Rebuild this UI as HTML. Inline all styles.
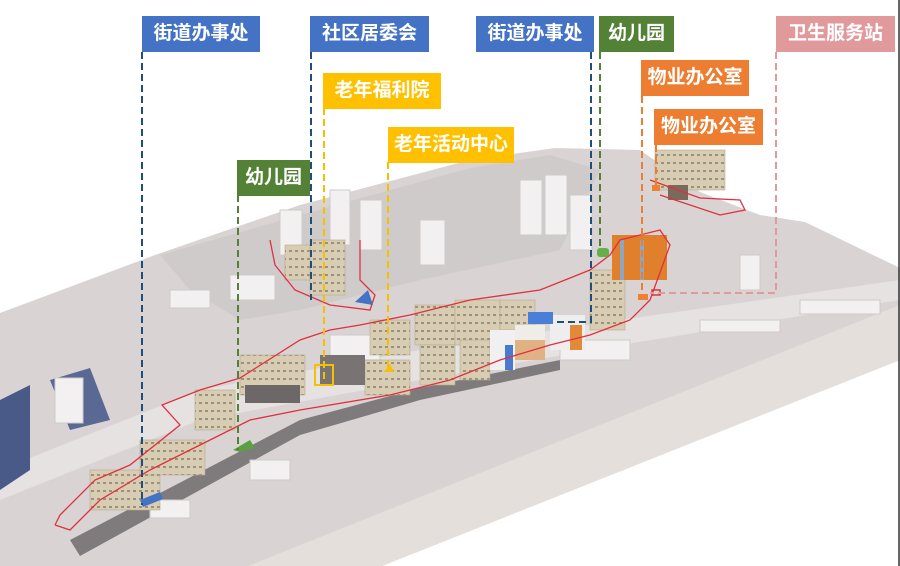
<!DOCTYPE html>
<html><head><meta charset="utf-8"><style>
body{margin:0;width:900px;height:566px;overflow:hidden;background:#fff;font-family:"Liberation Sans","Noto Sans CJK SC",sans-serif}
.l{position:absolute;color:#fff;font-weight:bold;font-size:19px;line-height:36px;text-align:center;letter-spacing:0px}
svg{position:absolute;left:0;top:0}
</style></head><body>
<svg width="900" height="566" viewBox="0 0 900 566">
<defs>
<pattern id="bg" width="6" height="8" patternUnits="userSpaceOnUse"><rect width="6" height="8" fill="#d8ccb2"/><rect x="1" y="2" width="3" height="2" fill="#9a9280"/></pattern>
</defs>
<polygon points="0,313 155,255 300,205 470,160 555,148 640,150 700,192 760,215 805,222 900,268 900,360 382,566 0,566" fill="#d9d4d3"/>
<polygon points="900,305 900,360 382,566 248,566" fill="#e4dfdb"/>
<polygon points="160,255 300,215 470,168 550,155 600,170 560,250 420,280 300,310 240,320 190,290" fill="#d0cbcb"/>
<!-- road strip -->
<polygon points="0,470 200,390 420,350 620,320 900,280 900,300 620,345 420,380 200,420 0,500" fill="#e6e2e1"/>
<polygon points="70,540 300,420 420,388 560,360 560,370 420,400 300,435 80,556" fill="#7f7a7c"/>
<!-- shadows -->
<polygon points="0,400 30,385 30,470 0,490" fill="#4a5a88"/>
<polygon points="50,380 90,368 110,420 70,430" fill="#5a6894"/>
<!-- white towers -->
<g fill="#f2f0f0" stroke="#cfcaca" stroke-width="1">
<rect x="55" y="378" width="28" height="45"/>
<rect x="280" y="210" width="22" height="45"/>
<rect x="330" y="190" width="20" height="55"/>
<rect x="360" y="200" width="22" height="50"/>
<rect x="420" y="220" width="25" height="45"/>
<rect x="520" y="180" width="22" height="55"/>
<rect x="545" y="175" width="22" height="60"/>
<rect x="570" y="195" width="22" height="55"/>
<rect x="170" y="290" width="40" height="18"/>
<rect x="230" y="275" width="45" height="25"/>
<rect x="330" y="335" width="50" height="25"/>
<rect x="560" y="340" width="70" height="20"/>
<rect x="740" y="255" width="20" height="35"/>
<rect x="700" y="320" width="80" height="12"/>
<rect x="800" y="300" width="80" height="14"/>
<rect x="150" y="500" width="40" height="18"/>
<rect x="250" y="460" width="40" height="20"/>
</g>
<!-- beige residential -->
<g fill="url(#bg)" stroke="#b8aa8c" stroke-width="0.6">
<rect x="90" y="470" width="70" height="40"/>
<rect x="140" y="440" width="65" height="35"/>
<rect x="195" y="390" width="40" height="40"/>
<rect x="240" y="355" width="65" height="40"/>
<rect x="365" y="360" width="45" height="35"/>
<rect x="370" y="320" width="40" height="35"/>
<rect x="415" y="305" width="40" height="40"/>
<rect x="420" y="345" width="35" height="40"/>
<rect x="455" y="300" width="45" height="45"/>
<rect x="460" y="340" width="30" height="40"/>
<rect x="500" y="300" width="35" height="30"/>
<rect x="590" y="270" width="35" height="60"/>
<rect x="310" y="240" width="35" height="55"/>
<rect x="285" y="245" width="25" height="35"/>
<rect x="655" y="150" width="70" height="40"/>
</g>
<g>
<rect x="515" y="325" width="30" height="35" fill="#f0ece8"/><rect x="515" y="340" width="30" height="20" fill="#d58a40" opacity=".6"/>
<rect x="550" y="315" width="35" height="35" fill="#eee"/><rect x="570" y="325" width="12" height="25" fill="#e08a3a"/>
<rect x="490" y="330" width="25" height="40" fill="#f0f0f0"/><rect x="505" y="345" width="8" height="25" fill="#4a7ad0"/>
<rect x="528" y="312" width="25" height="12" fill="#4a7fd8"/>
<rect x="612" y="235" width="55" height="45" fill="#e07f2c"/>
<rect x="620" y="240" width="4" height="40" fill="#8fa6c0"/><rect x="640" y="240" width="4" height="40" fill="#8fa6c0"/>
<rect x="668" y="185" width="20" height="15" fill="#7a6a5c"/>
<rect x="245" y="385" width="55" height="18" fill="#6d6767"/>
<rect x="320" y="355" width="45" height="30" fill="#797374"/>
</g>
<!-- red boundary -->
<polyline fill="none" stroke="#e0303e" stroke-width="1.3" points="55,525 60,515 95,480 130,465 180,425 162,405 200,390 240,378 300,340 330,330 360,325 410,315 470,300 540,290 590,270 610,255 620,240 660,230 670,245 650,300 630,320 590,335 550,345 500,360 450,380 390,395 300,410 250,420 200,445 150,470 100,500 70,530 55,525"/>
<polyline fill="none" stroke="#e0303e" stroke-width="1.3" points="270,240 275,265 295,290 330,305 370,310 375,295 360,280 360,240"/>
<polyline fill="none" stroke="#e0303e" stroke-width="1.3" points="650,180 700,198 740,200 745,210 720,215 660,195"/>
<!-- markers -->
<polygon points="140,500 160,492 163,499 143,507" fill="#4472c4"/>
<polygon points="233,450 250,440 255,448 240,452" fill="#58a040"/>
<polygon points="355,302 368,290 373,305" fill="#4472c4"/>
<rect x="315" y="365" width="18" height="20" fill="none" stroke="#f5c000" stroke-width="2"/>
<polygon points="384,372 390,364 394,372" fill="#f5c000"/>
<rect x="597" y="248" width="12" height="9" rx="3" fill="#64b04a"/>
<rect x="638" y="294" width="10" height="6" fill="#f08030"/>
<rect x="652" y="185" width="8" height="6" fill="#f08030"/>
<rect x="652" y="290" width="8" height="5" fill="none" stroke="#e03040" stroke-width="1.5"/>
<!-- dashed leader lines -->
<g fill="none" stroke-width="2" stroke-dasharray="7,4">
<line x1="142" y1="52" x2="142" y2="505" stroke="#1f4e79"/>
<line x1="311" y1="52" x2="311" y2="300" stroke="#1f4e79"/>
<polyline points="591,52 591,322 553,322" stroke="#1f4e79"/>
<line x1="324" y1="108" x2="324" y2="380" stroke="#f5c000"/>
<line x1="388" y1="162" x2="388" y2="370" stroke="#f5c000"/>
<line x1="238" y1="195" x2="238" y2="450" stroke="#538135"/>
<line x1="600" y1="52" x2="600" y2="250" stroke="#538135"/>
<line x1="642" y1="96" x2="642" y2="294" stroke="#ed7d31"/>
<line x1="656" y1="145" x2="656" y2="185" stroke="#ed7d31"/>
<polyline points="776,52 776,293 650,293" stroke="#e09a9c"/>
</g>
<line x1="899" y1="0" x2="899" y2="566" stroke="#333" stroke-width="1.5"/>
</svg>
<div class="l" style="left:142px;top:16px;width:118px;background:#4472c4">街道办事处</div>
<div class="l" style="left:310px;top:16px;width:119px;background:#4472c4">社区居委会</div>
<div class="l" style="left:476px;top:16px;width:118px;background:#4472c4">街道办事处</div>
<div class="l" style="left:599px;top:16px;width:75px;background:#538135">幼儿园</div>
<div class="l" style="left:776px;top:16px;width:119px;background:#e09a9c">卫生服务站</div>
<div class="l" style="left:323px;top:73px;width:118px;background:#ffc000">老年福利院</div>
<div class="l" style="left:388px;top:127px;width:126px;background:#ffc000">老年活动中心</div>
<div class="l" style="left:237px;top:160px;width:73px;background:#538135">幼儿园</div>
<div class="l" style="left:641px;top:60px;width:108px;background:#ed7d31">物业办公室</div>
<div class="l" style="left:654px;top:109px;width:109px;background:#ed7d31">物业办公室</div>
</body></html>
